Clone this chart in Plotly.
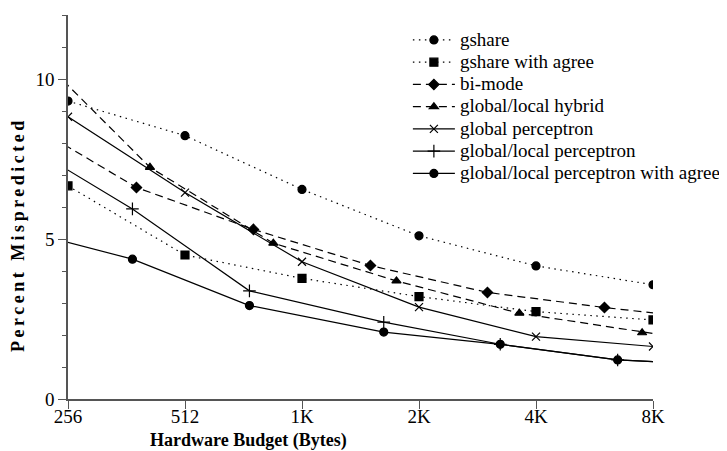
import plotly.graph_objects as go

# Hardware budgets (bytes) and misprediction rates (%).
# Points just outside 256..8K are estimated so that clipped lines enter/exit where drawn.
gshare_x = [256, 512, 1024, 2048, 4096, 8192]
gshare_y = [9.31, 8.23, 6.55, 5.10, 4.16, 3.57]

agree_x = [256, 512, 1024, 2048, 4096, 8192]
agree_y = [6.66, 4.50, 3.77, 3.20, 2.73, 2.47]

bimode_x = [192, 384, 768, 1536, 3072, 6144, 12288]
bimode_y = [8.78, 6.61, 5.30, 4.17, 3.33, 2.86, 2.45]

hybrid_x = [200, 416, 864, 1792, 3712, 7680, 15872]
hybrid_y = [11.1, 7.24, 4.87, 3.69, 2.68, 2.07, 1.52]

gperc_x = [256, 512, 1024, 2048, 4096, 8192]
gperc_y = [8.82, 6.45, 4.29, 2.87, 1.95, 1.64]

glperc_x = [187, 375, 750, 1662, 3314, 6644, 13288]
glperc_y = [8.15, 5.94, 3.38, 2.40, 1.71, 1.22, 1.05]

glagree_x = [187, 375, 750, 1662, 3314, 6644, 13288]
glagree_y = [5.33, 4.37, 2.92, 2.09, 1.71, 1.22, 1.05]

tick_vals = [256, 512, 1024, 2048, 4096, 8192]
tick_text = ["256", "512", "1K", "2K", "4K", "8K"]

series_names = ["gshare", "gshare with agree", "bi-mode", "global/local hybrid",
                "global perceptron", "global/local perceptron",
                "global/local perceptron with agree"]

styles = [
    ("1.5px,4.5px", "circle", 8),
    ("1.5px,4.5px", "square", 8),
    ("8px,5px", "diamond", 8),
    ("8px,5px", "triangle-up", 8),
    ("solid", "x-thin", 8),
    ("solid", "cross-thin", 9),
    ("solid", "circle", 8),
]
data = [(gshare_x, gshare_y), (agree_x, agree_y), (bimode_x, bimode_y),
        (hybrid_x, hybrid_y), (gperc_x, gperc_y), (glperc_x, glperc_y),
        (glagree_x, glagree_y)]

font = "Liberation Serif, Times New Roman, serif"

fig = go.Figure()
for name, (xs, ys), (dash, sym, sz) in zip(series_names, data, styles):
    fig.add_trace(go.Scatter(
        x=xs, y=ys, name="<span style='font-size:19px'>%s</span>" % name,
        mode="lines+markers",
        line=dict(color="black", width=1.2, dash=dash),
        marker=dict(symbol=sym, size=sz, color="black",
                    line=dict(color="black", width=1.2)),
    ))

fig.update_layout(
    width=719, height=443,
    margin=dict(l=60, r=74, t=7, b=52, autoexpand=False),
    paper_bgcolor="white", plot_bgcolor="white",
    font=dict(family=font, size=19, color="black"),
    showlegend=True,
    legend=dict(x=0.581, y=0.977, xanchor="left", yanchor="top",
                bgcolor="rgba(0,0,0,0)", font=dict(size=14.8, family=font),
                tracegroupgap=0, itemwidth=42),
    annotations=[
        dict(text="<b>Hardware Budget (Bytes)</b>", xref="paper", yref="paper",
             x=(248 - 68) / 585, y=-(440 - 399) / 384, xanchor="center",
             yanchor="middle", showarrow=False, font=dict(size=18, family=font)),
        dict(text="<b><span style='letter-spacing:3.5px'>Percent Mispredicted</span></b>",
             xref="paper", yref="paper",
             x=-(68 - 18) / 585, y=(399 - 235) / 384, xanchor="center",
             yanchor="middle", textangle=-90, showarrow=False,
             font=dict(size=18, family=font)),
    ],
)
fig.update_xaxes(
    type="log", range=[2.40824, 3.91339],
    tickvals=tick_vals, ticktext=tick_text,
    showline=True, linecolor="#555", linewidth=1.5,
    ticks="outside", ticklen=8, tickcolor="#555", ticklabelstandoff=-9,
    showgrid=False, zeroline=False, mirror=False,
)
fig.update_yaxes(
    range=[0, 12], tickvals=[0, 5, 10],
    showline=True, linecolor="#555", linewidth=1.5,
    ticks="outside", ticklen=8, tickcolor="#555",
    minor=dict(dtick=1, ticks="outside", ticklen=4, tickcolor="#555"),
    showgrid=False, zeroline=False,
)

fig.write_html("out.html")
